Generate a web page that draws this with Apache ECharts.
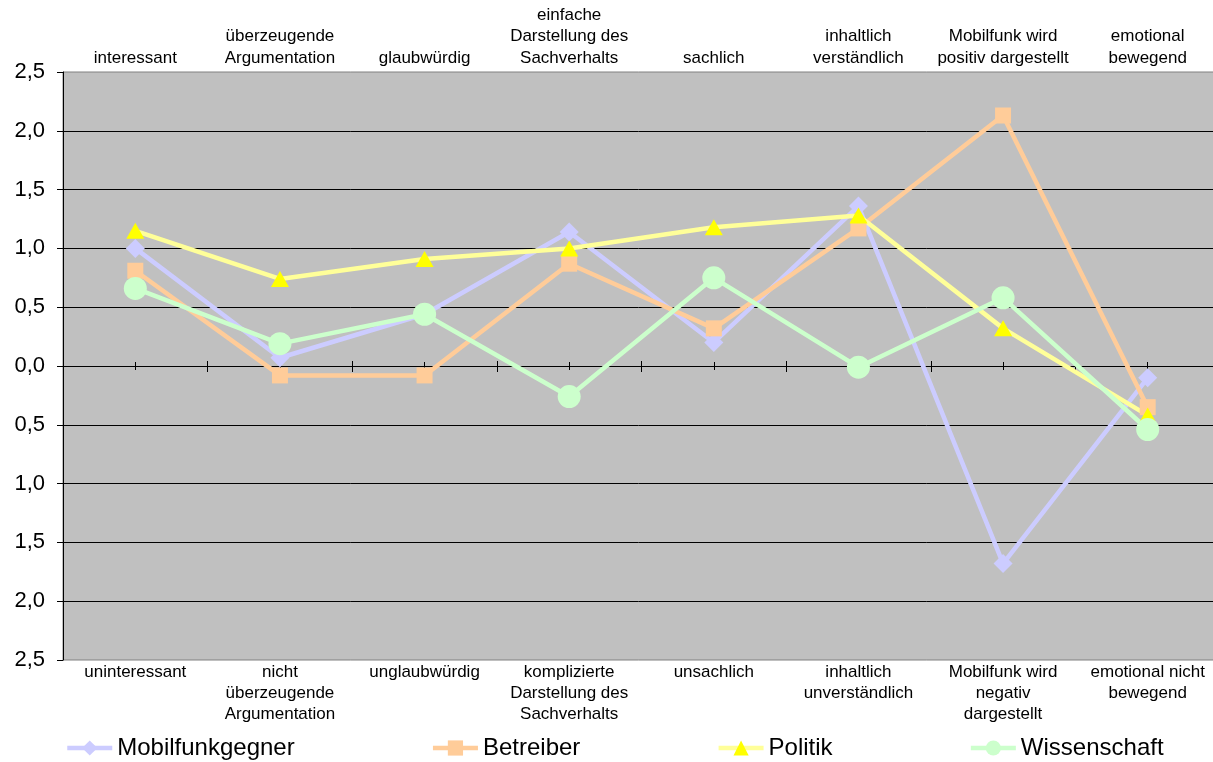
<!DOCTYPE html>
<html>
<head>
<meta charset="utf-8">
<script src="https://cdn.jsdelivr.net/npm/echarts@6/dist/echarts.min.js"></script>
<style>
  html, body { margin: 0; padding: 0; background: #ffffff; }
  #chart { width: 1213px; height: 762px; }
</style>
</head>
<body>
<div id="chart"></div>
<script>
// Semantic differential: positive pole above, negative pole below
const topLabels = [
  'interessant',
  'überzeugende\nArgumentation',
  'glaubwürdig',
  'einfache\nDarstellung des\nSachverhalts',
  'sachlich',
  'inhaltlich\nverständlich',
  'Mobilfunk wird\npositiv dargestellt',
  'emotional\nbewegend'
];
const bottomLabels = [
  'uninteressant',
  'nicht\nüberzeugende\nArgumentation',
  'unglaubwürdig',
  'komplizierte\nDarstellung des\nSachverhalts',
  'unsachlich',
  'inhaltlich\nunverständlich',
  'Mobilfunk wird\nnegativ\ndargestellt',
  'emotional nicht\nbewegend'
];

const mobilfunkgegner = [1.0, 0.07, 0.44, 1.14, 0.2, 1.36, -1.68, -0.1];
const betreiber       = [0.81, -0.08, -0.08, 0.87, 0.32, 1.17, 2.13, -0.35];
const politik         = [1.15, 0.74, 0.91, 1.0, 1.18, 1.28, 0.32, -0.42];
const wissenschaft    = [0.66, 0.19, 0.44, -0.26, 0.75, -0.01, 0.58, -0.54];

// y tick labels from top (2,5) to bottom (2,5) – the scale is symmetric
const yTickLabels = ['2,5', '2,0', '1,5', '1,0', '0,5', '0,0', '0,5', '1,0', '1,5', '2,0', '2,5'];
const yMin = -2.5, yMax = 2.5, yStep = 0.5;

const FONT = 'Liberation Sans, Arial, sans-serif';

const chart = echarts.init(document.getElementById('chart'), null, { renderer: 'canvas' });

// Each zero-line tick axis needs its own y axis to sit on (one onZero axis per y axis)
function tickAxis(yIndex, inside, length, alignWithLabel) {
  return {
    type: 'category',
    data: topLabels,
    position: 'bottom',
    axisLine: { show: true, onZero: true, onZeroAxisIndex: yIndex,
                lineStyle: { color: '#000000', width: 1 } },
    axisTick: { show: true, inside: inside, length: length, alignWithLabel: alignWithLabel,
                lineStyle: { color: '#000000', width: 1 } },
    axisLabel: { show: false },
    splitLine: { show: false }
  };
}

function helperYAxis() {
  return { type: 'value', min: yMin, max: yMax, interval: yStep, show: false,
           axisLine: { onZero: false }, splitLine: { show: false } };
}

function lineSeries(name, data, symbol, size, lineColor, markerColor) {
  return {
    name: name,
    type: 'line',
    xAxisIndex: 0,
    yAxisIndex: 0,
    data: data,
    symbol: symbol,
    symbolSize: size,
    showAllSymbol: true,
    lineStyle: { color: lineColor, width: 4.5 },
    itemStyle: { color: markerColor, borderWidth: 0 },
    emphasis: { disabled: true },
    animation: false
  };
}

chart.setOption({
  animation: false,
  backgroundColor: '#ffffff',
  grid: {
    left: 63, top: 72, right: -7, bottom: 102,
    outerBoundsMode: 'none',
    containLabel: false,
    show: true, backgroundColor: '#C0C0C0', borderColor: '#808080', borderWidth: 1
  },
  xAxis: [
    {
      type: 'category',
      data: bottomLabels,
      position: 'bottom',
      axisLine: { show: false, onZero: false },
      axisTick: { show: false },
      axisLabel: { interval: 0, margin: 2, fontSize: 17, lineHeight: 21,
                   fontFamily: FONT, color: '#000000', align: 'center', verticalAlign: 'top' },
      splitLine: { show: false }
    },
    {
      type: 'category',
      data: topLabels,
      position: 'top',
      axisLine: { show: false, onZero: false },
      axisTick: { show: false },
      axisLabel: { interval: 0, margin: 3, fontSize: 17, lineHeight: 21.5,
                   fontFamily: FONT, color: '#000000', align: 'center' },
      splitLine: { show: false }
    },
    tickAxis(1, false, 6, false),
    tickAxis(2, true, 5, false),
    tickAxis(3, false, 4, true),
    tickAxis(4, true, 4, true)
  ],
  yAxis: [
    {
      type: 'value',
      min: yMin, max: yMax, interval: yStep,
      axisLine: { show: true, onZero: false, lineStyle: { color: '#000000', width: 1 } },
      axisTick: { show: true, length: 6, lineStyle: { color: '#000000', width: 1 } },
      axisLabel: {
        margin: 18, fontSize: 22, fontFamily: FONT, color: '#000000',
        formatter: function (v) { return yTickLabels[Math.round((yMax - v) / yStep)]; }
      },
      splitLine: { show: true, showMinLine: false, showMaxLine: false,
                   lineStyle: { color: '#000000', width: 1 } }
    },
    helperYAxis(), helperYAxis(), helperYAxis(), helperYAxis()
  ],
  legend: {
    left: 65, top: 736, padding: 0,
    itemWidth: 45, itemHeight: 19, itemGap: 136,
    lineStyle: { width: 4.5 },
    textStyle: { fontSize: 24, fontFamily: FONT, color: '#000000' },
    data: ['Mobilfunkgegner', 'Betreiber', 'Politik', 'Wissenschaft']
  },
  series: [
    lineSeries('Mobilfunkgegner', mobilfunkgegner, 'diamond', 19, '#CCCCFF', '#CCCCFF'),
    lineSeries('Betreiber', betreiber, 'rect', 16, '#FFCC99', '#FFCC99'),
    lineSeries('Politik', politik, 'triangle', [18, 16], '#FFFF99', '#FFFF00'),
    lineSeries('Wissenschaft', wissenschaft, 'circle', 23, '#CCFFCC', '#CCFFCC')
  ]
});
</script>
</body>
</html>
